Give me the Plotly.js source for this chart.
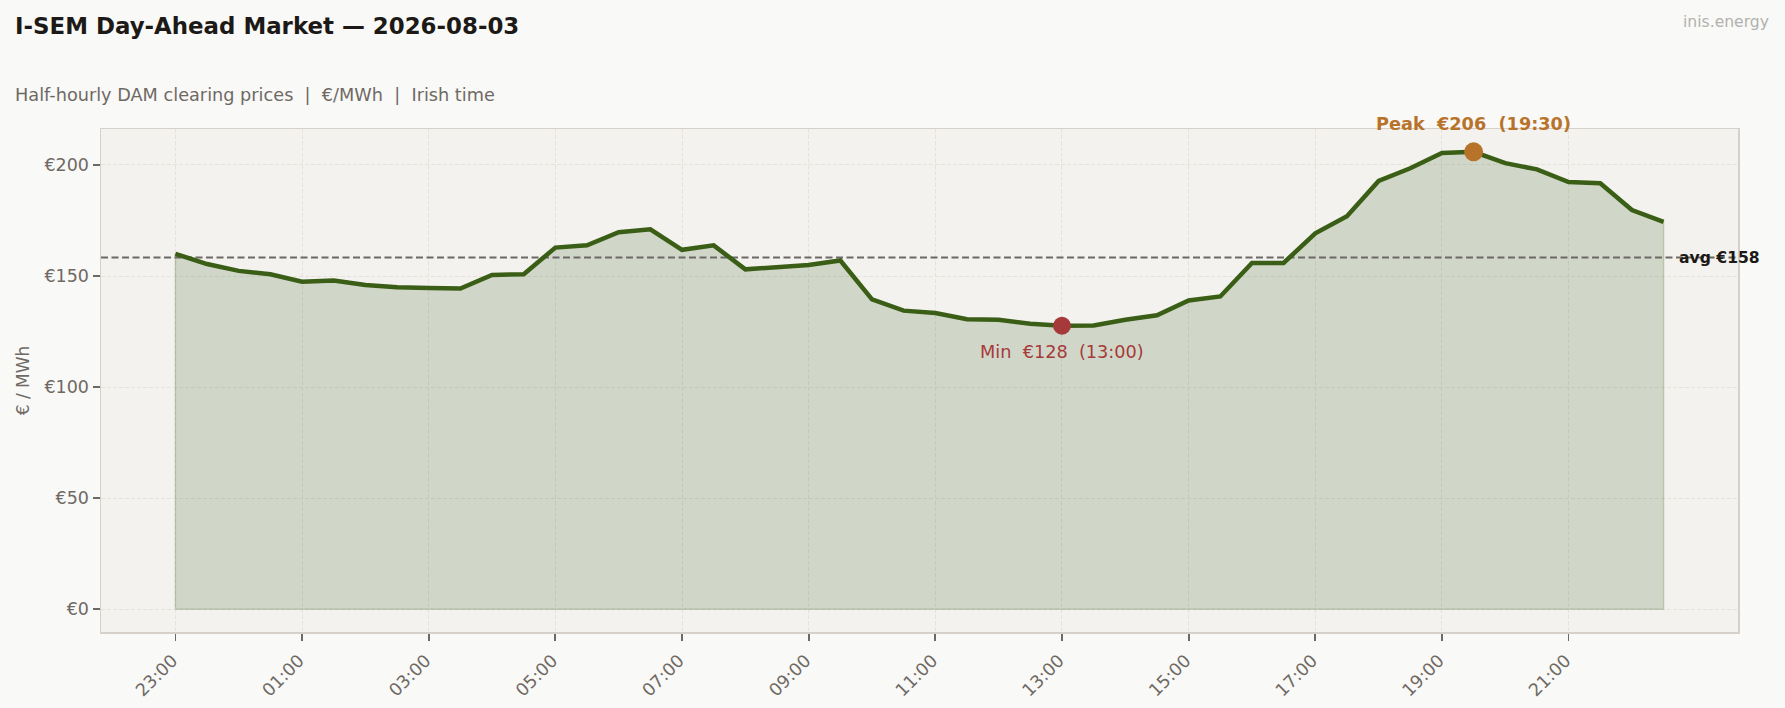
<!DOCTYPE html>
<html>
<head>
<meta charset="utf-8">
<script src="https://cdn.plot.ly/plotly-3.0.1.min.js"></script>
<style>
  html, body { margin: 0; padding: 0; background: #f9f9f7; }
  #chart { width: 1785px; height: 708px; }
</style>
</head>
<body>
<div id="chart"></div>
<script>
// Half-hourly DAM clearing prices (EUR/MWh), Irish time
const slots = [
    '2026-08-02 23:00', '2026-08-02 23:30', '2026-08-03 00:00', '2026-08-03 00:30',
    '2026-08-03 01:00', '2026-08-03 01:30', '2026-08-03 02:00', '2026-08-03 02:30',
    '2026-08-03 03:00', '2026-08-03 03:30', '2026-08-03 04:00', '2026-08-03 04:30',
    '2026-08-03 05:00', '2026-08-03 05:30', '2026-08-03 06:00', '2026-08-03 06:30',
    '2026-08-03 07:00', '2026-08-03 07:30', '2026-08-03 08:00', '2026-08-03 08:30',
    '2026-08-03 09:00', '2026-08-03 09:30', '2026-08-03 10:00', '2026-08-03 10:30',
    '2026-08-03 11:00', '2026-08-03 11:30', '2026-08-03 12:00', '2026-08-03 12:30',
    '2026-08-03 13:00', '2026-08-03 13:30', '2026-08-03 14:00', '2026-08-03 14:30',
    '2026-08-03 15:00', '2026-08-03 15:30', '2026-08-03 16:00', '2026-08-03 16:30',
    '2026-08-03 17:00', '2026-08-03 17:30', '2026-08-03 18:00', '2026-08-03 18:30',
    '2026-08-03 19:00', '2026-08-03 19:30', '2026-08-03 20:00', '2026-08-03 20:30',
    '2026-08-03 21:00', '2026-08-03 21:30', '2026-08-03 22:00', '2026-08-03 22:30'
];

const prices = [
    160.0, 155.4, 152.3, 150.8, 147.4, 148.0, 146.0, 144.9, 144.6, 144.4,
    150.5, 150.8, 162.8, 163.8, 169.7, 171.0, 161.8, 163.8, 153.0, 154.0,
    155.0, 157.0, 139.5, 134.4, 133.3, 130.5, 130.3, 128.5, 127.6, 127.7,
    130.3, 132.3, 139.0, 140.8, 155.9, 155.9, 169.2, 176.9, 192.8, 198.5,
    205.4, 205.9, 200.8, 198.0, 192.3, 191.8, 179.7, 174.4
];

const tickTimes = [
    '2026-08-02 23:00', '2026-08-03 01:00', '2026-08-03 03:00', '2026-08-03 05:00',
    '2026-08-03 07:00', '2026-08-03 09:00', '2026-08-03 11:00', '2026-08-03 13:00',
    '2026-08-03 15:00', '2026-08-03 17:00', '2026-08-03 19:00', '2026-08-03 21:00'
];
const tickLabels = [
    '23:00', '01:00', '03:00', '05:00', '07:00', '09:00',
    '11:00', '13:00', '15:00', '17:00', '19:00', '21:00'
];

const COLORS = {
    LINE: '#3a5e16',
    FILL: 'rgba(56, 94, 21, 0.18)',
    FILL_EDGE: 'rgba(56, 94, 21, 0.22)',
    PEAK: '#b8732b',
    MIN: '#a63a3a',
    AVG: '#6b6865',
    TEXT: '#1c1917',
    MUTED: '#6f6964',
    FAINT: '#b3b1ae',
    GRID: '#e5e2dc',
    SPINE: '#d5d1ca',
    PAPER: '#f9f9f7',
    PLOT: '#f3f2ef'
};
const FONT = 'DejaVu Sans, Liberation Sans, sans-serif';

const W = 1785, H = 708;
const margin = { l: 101, r: 47, t: 129, b: 76, pad: 0 };
const plotW = W - margin.l - margin.r;
const plotH = H - margin.t - margin.b;

// summary stats
const avg = prices.reduce((a, b) => a + b, 0) / prices.length;
const peakIdx = prices.indexOf(Math.max(...prices));
const minIdx = prices.indexOf(Math.min(...prices));
const hhmm = s => s.slice(11);
const nb = '\u00a0';

// axis ranges with 5% padding like the original figure
const toMs = s => Date.parse(s.replace(' ', 'T') + ':00Z');
const t0 = toMs(slots[0]);
const t1 = toMs(slots[slots.length - 1]);
const xPad = (t1 - t0) * 0.05;
const xRange = [t0 - xPad, t1 + xPad];
const yTop = Math.max(...prices);
const yRange = [-yTop * 0.05, yTop * 1.05];

// area under the curve, closed down to zero
const areaX = [slots[0]].concat(slots, [slots[slots.length - 1], slots[0]]);
const areaY = [0].concat(prices, [0, 0]);

const traces = [
    {
        x: areaX, y: areaY,
        type: 'scatter', mode: 'lines',
        fill: 'toself', fillcolor: COLORS.FILL,
        line: { color: COLORS.FILL_EDGE, width: 1.5 },
        hoverinfo: 'skip', showlegend: false
    },
    {
        x: xRange, y: [avg, avg],
        type: 'scatter', mode: 'lines',
        line: { color: COLORS.AVG, width: 2, dash: '7px,3.5px' },
        hoverinfo: 'skip', showlegend: false
    },
    {
        x: slots, y: prices,
        type: 'scatter', mode: 'lines',
        line: { color: COLORS.LINE, width: 4.5 },
        hovertemplate: '%{x|%H:%M}: €%{y:.2f}<extra></extra>',
        showlegend: false
    },
    {
        x: [slots[peakIdx]], y: [prices[peakIdx]],
        type: 'scatter', mode: 'markers',
        marker: { color: COLORS.PEAK, size: 19 },
        hoverinfo: 'skip', showlegend: false
    },
    {
        x: [slots[minIdx]], y: [prices[minIdx]],
        type: 'scatter', mode: 'markers',
        marker: { color: COLORS.MIN, size: 18 },
        hoverinfo: 'skip', showlegend: false
    }
];

const axisCommon = {
    showline: true, mirror: true,
    linecolor: COLORS.SPINE, linewidth: 1.5,
    showgrid: true, gridcolor: COLORS.GRID, gridwidth: 1, griddash: '4px,2px',
    zeroline: false,
    ticks: 'outside', ticklen: 7, tickwidth: 1.8, tickcolor: COLORS.MUTED,
    tickfont: { family: FONT, size: 17.5, color: COLORS.MUTED },
    fixedrange: true
};

const layout = {
    width: W, height: H,
    margin: margin,
    paper_bgcolor: COLORS.PAPER,
    plot_bgcolor: COLORS.PLOT,
    font: { family: FONT, color: COLORS.MUTED },
    title: {
        text: 'I-SEM Day-Ahead Market — 2026-08-03',
        font: { family: FONT, size: 22.9, color: COLORS.TEXT, weight: 'bold' },
        xref: 'container', yref: 'container',
        x: 15 / W, xanchor: 'left',
        y: 1 - 26 / H, yanchor: 'middle'
    },
    xaxis: Object.assign({}, axisCommon, {
        type: 'date',
        range: xRange,
        tickmode: 'array',
        tickvals: tickTimes,
        ticktext: tickLabels,
        tickangle: -45,
        ticklabelstandoff: 3,
        ticklabelshift: -3
    }),
    yaxis: Object.assign({}, axisCommon, {
        range: yRange,
        tickmode: 'linear', tick0: 0, dtick: 50,
        tickprefix: '€',
        title: {
            text: '€ / MWh',
            font: { family: FONT, size: 17, color: COLORS.MUTED },
            standoff: 10
        }
    }),
    annotations: [
        {
            text: 'Half-hourly DAM clearing prices' + nb + nb + '|' + nb + nb + '€/MWh' + nb + nb + '|' + nb + nb + 'Irish time',
            xref: 'paper', yref: 'paper',
            x: (13 - margin.l) / plotW, xanchor: 'left',
            y: 1 + (margin.t - 95) / plotH, yanchor: 'middle',
            showarrow: false,
            font: { family: FONT, size: 17.7, color: COLORS.MUTED }
        },
        {
            text: 'inis.energy',
            xref: 'paper', yref: 'paper',
            x: 1 + (1771 - (W - margin.r)) / plotW, xanchor: 'right',
            y: 1 + (margin.t - 22) / plotH, yanchor: 'middle',
            showarrow: false,
            font: { family: FONT, size: 15.6, color: COLORS.FAINT }
        },
        {
            text: 'Peak' + nb + nb + '€' + Math.round(prices[peakIdx]) + nb + nb + '(' + hhmm(slots[peakIdx]) + ')',
            x: slots[peakIdx], y: prices[peakIdx],
            xref: 'x', yref: 'y',
            showarrow: false, yanchor: 'middle', yshift: 28,
            font: { family: FONT, size: 17.7, color: COLORS.PEAK, weight: 'bold' }
        },
        {
            text: 'Min' + nb + nb + '€' + Math.round(prices[minIdx]) + nb + nb + '(' + hhmm(slots[minIdx]) + ')',
            x: slots[minIdx], y: prices[minIdx],
            xref: 'x', yref: 'y',
            showarrow: false, yanchor: 'middle', yshift: -26,
            font: { family: FONT, size: 17.7, color: COLORS.MIN }
        },
        {
            text: 'avg €' + Math.round(avg),
            x: slots[slots.length - 1], y: avg,
            xref: 'x', yref: 'y',
            showarrow: false, xanchor: 'left', yanchor: 'middle', xshift: 13,
            font: { family: FONT, size: 15.6, color: COLORS.TEXT, weight: 'bold' }
        }
    ]
};

Plotly.newPlot('chart', traces, layout, { displayModeBar: false, staticPlot: true });
</script>
</body>
</html>
